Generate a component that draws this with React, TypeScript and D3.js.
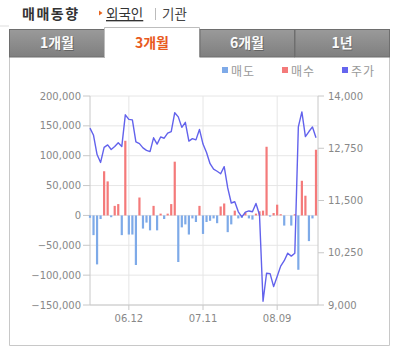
import React from "react";
import * as d3 from "d3";

const dates = [
  "05.28","05.29","05.30","05.31","06.01","06.04","06.05","06.06","06.07","06.08",
  "06.11","06.12","06.13","06.14","06.15","06.18","06.19","06.20","06.21","06.22",
  "06.25","06.26","06.27","06.28","06.29","07.02","07.03","07.04","07.05","07.06",
  "07.09","07.10","07.11","07.12","07.13","07.16","07.17","07.18","07.19","07.20",
  "07.23","07.24","07.25","07.26","07.27","07.30","07.31","08.01","08.02","08.03",
  "08.06","08.07","08.08","08.09","08.10","08.13","08.14","08.15","08.16","08.17",
  "08.20","08.21","08.22","08.23","08.24"
];

const netVolume = [
  -4000,-33000,-82000,-6000,74000,57000,-3000,16000,19000,-33000,
  125000,-32000,-32000,-83000,30000,-22000,-12000,-25000,16000,-25000,
  3000,-6000,3000,19000,90000,-78000,-20000,-15000,-32000,-5000,
  -11000,16000,-31000,-11000,-9000,-5000,-13000,15000,20000,-28000,
  -15000,8000,-5000,-4000,5000,-5000,-7000,3000,7000,8000,
  115000,-2000,4000,18000,2000,-17000,0,-17000,2000,-91000,
  58000,33000,-43000,-5000,110000
];

const price = [
  13230,13060,12600,12410,12770,12830,12720,12790,12880,12790,
  13550,13440,13430,12900,12860,12760,12700,12670,13000,12850,
  13020,12990,13110,13150,13600,13500,13250,13370,12920,12980,
  12950,13200,12850,12650,12380,12250,12200,12140,12310,11800,
  11440,11470,11230,11110,11220,11250,11230,11430,11160,9090,
  9760,9750,9440,9680,9930,10060,10240,10170,10240,13260,
  13620,13030,13150,13260,13000
];

const xTickLabels = ["06.12", "07.11", "08.09"];
const leftTicks = [-150000, -100000, -50000, 0, 50000, 100000, 150000, 200000];
const rightTicks = [9000, 10250, 11500, 12750, 14000];
const tabs = ["1개월", "3개월", "6개월", "1년"];
const legendItems = ["매도", "매수", "주가"];
const legendColors = ["#7eaae8", "#f47a7a", "#6565ee"];

const SELL = "#7eaae8";
const BUY = "#f47a7a";
const LINE = "#6262ec";

export default function App() {
  const plotL = 90, plotR = 318, plotT = 96, plotB = 305;
  const x = d3.scalePoint<string>().domain(dates).range([90, 316]);
  const yL = d3.scaleLinear().domain([-150000, 200000]).range([plotB, plotT]);
  const yR = d3.scaleLinear().domain([9000, 14000]).range([plotB, plotT]);
  const fmt = d3.format(",");
  const line = d3
    .line<number>()
    .x((_, i) => x(dates[i]) as number)
    .y((d) => yR(d))
    .curve(d3.curveLinear);
  const bw = 2.2;
  const tabX = [9.5, 104.5, 199.5, 294.5, 389.5];
  const font = "'DejaVu Sans', Arial, sans-serif";
  const kfont = "'Noto Sans CJK KR', 'Noto Sans', sans-serif";

  return (
    <svg
      width={399}
      height={352}
      style={{ position: "absolute", left: 0, top: 0, background: "#fff" }}
    >
      <defs>
        <linearGradient id="tabg" x1="0" y1="0" x2="0" y2="1">
          <stop offset="0" stopColor="#9a9a9a" />
          <stop offset="1" stopColor="#7f7f7f" />
        </linearGradient>
      </defs>
      {/* header */}
      <text x={22} y={19} fontFamily={kfont} fontSize={14} fontWeight="bold" fill="#333" letterSpacing={1.5}>
        매매동향
      </text>
      <path d="M99,10.5 L102.5,13 L99,15.5 Z" fill="#e8641e" />
      <text x={106} y={19} fontFamily={kfont} fontSize={13.5} fill="#333" textDecoration="underline">
        외국인
      </text>
      <line x1={155.5} x2={155.5} y1={8} y2={20} stroke="#bbb" />
      <text x={162} y={19} fontFamily={kfont} fontSize={13.5} fill="#444">
        기관
      </text>
      <line x1={0} x2={9} y1={26} y2={26} stroke="#ddd" />

      {/* panel */}
      <path d="M9.5,57 L9.5,345.5 L389.5,345.5 L389.5,57" fill="#fff" stroke="#c8c8c8" />

      {/* tabs */}
      {tabs.map((t, i) => {
        const x0 = tabX[i];
        const x1 = tabX[i + 1];
        const active = i === 1;
        return (
          <g key={t}>
            {active ? (
              <path
                d={`M${x0},57 L${x0},27.5 L${x1},27.5 L${x1},57`}
                fill="#fff"
                stroke="#bdbdbd"
              />
            ) : (
              <rect
                x={x0 + (i === 0 ? 0 : 0.5)}
                y={29.5}
                width={x1 - x0 - (i === 0 ? 0 : 0.5)}
                height={27.5}
                fill="url(#tabg)"
                stroke="#6e6e6e"
              />
            )}
            {!active && (
              <text
                x={(x0 + x1) / 2 + 0.8}
                y={48.8}
                textAnchor="middle"
                fontFamily={kfont}
                fontSize={14}
                fontWeight="bold"
                fill="#555"
                opacity={0.7}
              >
                {t}
              </text>
            )}
            <text
              x={(x0 + x1) / 2}
              y={48}
              textAnchor="middle"
              fontFamily={kfont}
              fontSize={14}
              fontWeight="bold"
              fill={active ? "#e85a1e" : "#fafafa"}
            >
              {t}
            </text>
          </g>
        );
      })}

      {/* legend */}
      {legendItems.map((t, i) => (
        <g key={t} transform={`translate(${222 + i * 60},0)`}>
          <rect x={0} y={67} width={6} height={6} fill={legendColors[i]} />
          <text x={9} y={76} fontFamily={kfont} fontSize={12} fill="#999" letterSpacing={1}>
            {t}
          </text>
        </g>
      ))}

      {/* gridlines */}
      {leftTicks.map((t) => (
        <line key={"g" + t} x1={plotL} x2={plotR} y1={yL(t)} y2={yL(t)} stroke="#e6e6e6" />
      ))}
      {xTickLabels.map((t) => (
        <line key={"v" + t} x1={x(t)} x2={x(t)} y1={plotT} y2={plotB} stroke="#e6e6e6" />
      ))}

      {/* axes */}
      <line x1={plotL} x2={plotL} y1={plotT} y2={plotB} stroke="#c8c8c8" />
      <line x1={plotR} x2={plotR} y1={plotT} y2={plotB} stroke="#c8c8c8" />
      <line x1={plotL} x2={plotR} y1={plotB} y2={plotB} stroke="#c8c8c8" />
      {leftTicks.map((t) => (
        <g key={"l" + t}>
          <line x1={83} x2={plotL} y1={yL(t)} y2={yL(t)} stroke="#c8c8c8" />
          <text x={81} y={yL(t)} dy="0.35em" textAnchor="end" fontFamily={font} fontSize={10} fill="#888">
            {fmt(t)}
          </text>
        </g>
      ))}
      {rightTicks.map((t) => (
        <g key={"r" + t}>
          <line x1={plotR} x2={plotR + 6} y1={yR(t)} y2={yR(t)} stroke="#c8c8c8" />
          <text x={328} y={yR(t)} dy="0.35em" fontFamily={font} fontSize={10} fill="#888">
            {fmt(t)}
          </text>
        </g>
      ))}
      {xTickLabels.map((t) => (
        <g key={"x" + t}>
          <line x1={x(t)} x2={x(t)} y1={plotB} y2={plotB + 5} stroke="#c8c8c8" />
          <text x={x(t)} y={322} textAnchor="middle" fontFamily={font} fontSize={10} fill="#888">
            {t}
          </text>
        </g>
      ))}

      {/* bars */}
      {netVolume.map((v, i) => {
        const cx = x(dates[i]) as number;
        const y0 = yL(0);
        const y1 = yL(v);
        return (
          <rect
            key={"b" + i}
            x={cx - bw / 2}
            y={Math.min(y0, y1)}
            width={bw}
            height={Math.abs(y1 - y0)}
            fill={v >= 0 ? BUY : SELL}
          />
        );
      })}

      {/* price line */}
      <path d={line(price) || ""} fill="none" stroke={LINE} strokeWidth={1.4} strokeLinejoin="round" />
    </svg>
  );
}
